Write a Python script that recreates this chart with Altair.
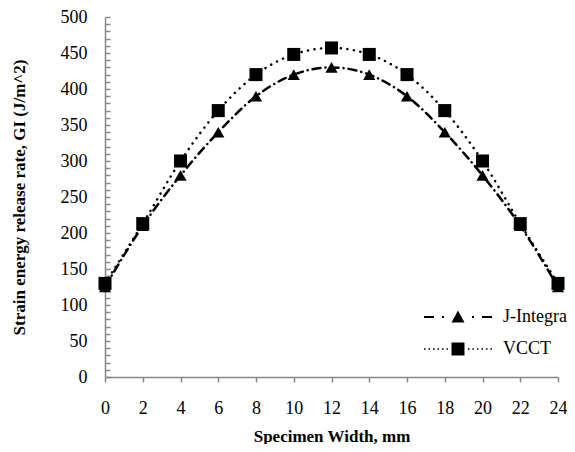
import altair as alt
import pandas as pd

widths = [0, 2, 4, 6, 8, 10, 12, 14, 16, 18, 20, 22, 24]
j_integral = [125, 210, 280, 340, 390, 420, 430, 420, 390, 340, 280, 210, 125]
vcct = [130, 213, 300, 370, 420, 448, 457, 448, 420, 370, 300, 213, 130]
series_names = ["J-Integral", "VCCT"]
x_ticks = list(range(0, 25, 2))
y_minor = list(range(0, 501, 10))

df = pd.DataFrame({
    "width": widths * 2,
    "G": j_integral + vcct,
    "series": [series_names[0]] * len(widths) + [series_names[1]] * len(widths),
})


def rect(x0, x1, y0, y1):
    return f"M{x0:.2f},{y0:.2f}H{x1:.2f}V{y1:.2f}H{x0:.2f}Z"


h = 0.22
path_j = (rect(-6.8, -4.8, -h, h) + rect(-3.2, -2.8, -h, h)
          + "M-1.3,1.1L1.3,1.1L0,-1.3Z"
          + rect(2.8, 3.2, -h, h) + rect(4.8, 6.8, -h, h))
dots = []
xpos = -6.8
while xpos < -1.6:
    dots.append(rect(xpos, xpos + 0.32, -0.16, 0.16))
    dots.append(rect(-xpos - 0.32, -xpos, -0.16, 0.16))
    xpos += 0.9
path_v = "".join(dots) + rect(-1.3, 1.3, -1.3, 1.3)

axis_color = "#878787"
font = "Liberation Serif"

x_axis = alt.Axis(values=x_ticks, title="Specimen Width, mm", grid=False,
                  tickSize=5, tickColor=axis_color, tickWidth=1.5,
                  domainColor=axis_color, domainWidth=1.5,
                  labelPadding=17, titlePadding=11, labelFlush=False,
                  labelOverlap=False, labelFont=font, labelFontSize=18,
                  titleFont=font, titleFontSize=17)
y_axis = alt.Axis(values=y_minor, title="Strain energy release rate, GI (J/m^2)",
                  labelExpr="datum.value % 50 === 0 ? datum.label : ''",
                  grid=False, ticks=True, tickSize={"expr": "-5"},
                  tickColor=axis_color, tickWidth=1.5, labelPadding=23,
                  domainColor=axis_color, domainWidth=1.5,
                  titlePadding=32, labelFont=font, labelFontSize=18,
                  titleFont=font, titleFontSize=17, labelOverlap=False)

x_enc = alt.X("width:Q", scale=alt.Scale(domain=[0, 24], nice=False), axis=x_axis)
y_enc = alt.Y("G:Q", scale=alt.Scale(domain=[0, 500], nice=False), axis=y_axis)

base = alt.Chart(df).encode(x=x_enc, y=y_enc)

lines = base.mark_line(interpolate="monotone", strokeCap="round",
                       strokeWidth=2.5, color="black").encode(
    strokeDash=alt.StrokeDash("series:N",
                              scale=alt.Scale(range=[[8, 5, 0.1, 5], [0.1, 6.5]]),
                              legend=None),
    detail="series:N",
)

tri = base.transform_filter(alt.datum.series == series_names[0]).mark_point(
    shape="triangle-up", filled=True, opacity=1, color="black", size=150)

sq = base.transform_filter(alt.datum.series == series_names[1]).mark_point(
    shape="square", filled=True, opacity=1, color="black", size=170)

legend_layer = base.mark_point(filled=True, color="black", size=0).encode(
    shape=alt.Shape("series:N",
                    scale=alt.Scale(domain=series_names, range=[path_j, path_v]),
                    legend=alt.Legend(title=None, orient="none", legendX=344, legendY=291,
                                      symbolSize=100, symbolOpacity=1,
                                      symbolFillColor="black", symbolStrokeWidth=0,
                                      labelOffset=36, rowPadding=14,
                                      labelFont=font, labelFontSize=18,
                                      labelColor="black")),
)

chart = alt.layer(lines, tri, sq, legend_layer).properties(
    width=559, height=436,
    autosize=alt.AutoSizeParams(type="fit", contains="padding"),
    padding={"left": 2, "top": 0, "right": 0, "bottom": 0},
).configure_view(stroke=None).configure_axis(
    labelFont=font, labelColor="black",
    titleFont=font, titleFontWeight="bold", titleColor="black",
).configure_legend(labelFont=font)

chart.save("out.html", embed_options={"renderer": "svg", "actions": False})
